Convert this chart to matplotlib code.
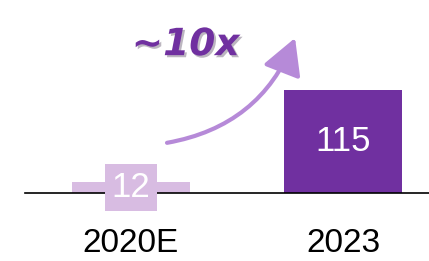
import matplotlib.pyplot as plt
import matplotlib.patheffects as pe

# dados
categorias = ["2020E", "2023"]
valores = [12, 115]
cores = ["#D8BCE2", "#7030A0"]

fig = plt.figure(figsize=(4.29, 2.61), dpi=100)
ax = fig.add_axes([0, 0, 1, 1])
ax.set_xlim(-0.618, 1.406)
ax.set_ylim(-75.9, 215.4)
ax.axis("off")

x = list(range(len(categorias)))
ax.bar(x, valores, width=0.557, color=cores, zorder=2)
ax.axhline(0, xmin=25 / 429, xmax=1, color="black", lw=1.2, zorder=3)

# rotulos de valor
for xi, v, c in zip(x, valores, cores):
    ax.text(xi, v / 2, str(v), ha="center", va="center", color="white",
            fontsize=25, family="Liberation Sans", zorder=4,
            bbox=dict(boxstyle="square,pad=0.2", fc=c, ec="none"))

# categorias (encostadas na borda de baixo, como no original)
for xi, cat in zip(x, categorias):
    ax.text(xi, -74, cat, ha="center", va="bottom", color="black",
            fontsize=24, family="Liberation Sans")

# seta ~10x
ax.annotate("", xy=(0.774, 173), xytext=(0.17, 56),
            arrowprops=dict(arrowstyle="-|>,head_length=1.0,head_width=0.55",
                            connectionstyle="arc3,rad=0.28", color="#B68AD8",
                            lw=3, mutation_scale=22, shrinkA=0, shrinkB=0),
            zorder=5)
ax.text(0.258, 165, "~10x", ha="center", va="center", color="#7030A0",
        fontsize=27, fontweight="bold", fontstyle="italic", family="DejaVu Sans",
        path_effects=[pe.SimplePatchShadow(offset=(1.5, -1.5), alpha=0.3), pe.Normal()])

fig.savefig("out.png", dpi=100)
